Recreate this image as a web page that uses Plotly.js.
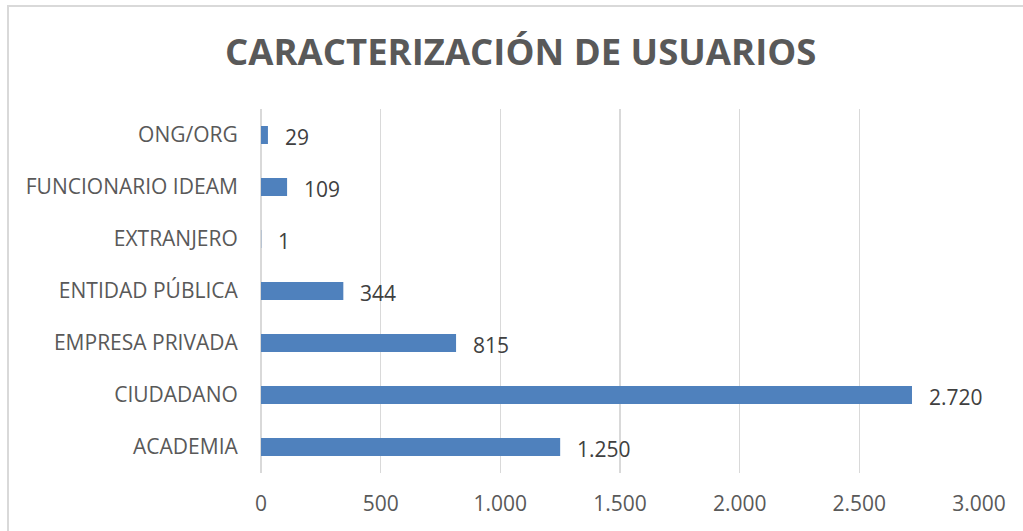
<!DOCTYPE html>
<html>
<head>
<meta charset="utf-8">
<script src="https://cdn.plot.ly/plotly-3.0.1.min.js"></script>
<style>
  html, body { margin: 0; padding: 0; background: #fff; overflow: hidden; }
  #frame { position: absolute; left: 7px; top: 5px; width: 1030px; height: 540px; border: 2px solid #d9d9d9; box-sizing: border-box; }
  #chart { position: absolute; left: 0; top: 0; width: 1023px; height: 531px; }
</style>
</head>
<body>
<div id="frame"></div>
<div id="chart"></div>
<script>
const categories = ["ACADEMIA", "CIUDADANO", "EMPRESA PRIVADA", "ENTIDAD PÚBLICA", "EXTRANJERO", "FUNCIONARIO IDEAM", "ONG/ORG"];
const values = [1250, 2720, 815, 344, 1, 109, 29];
const tickVals = [0, 500, 1000, 1500, 2000, 2500, 3000];
const tickText = ["0", "500", "1.000", "1.500", "2.000", "2.500", "3.000"];
const valueLabels = ["1.250", "2.720", "815", "344", "1", "109", "29"];
const chartTitle = "CARACTERIZACIÓN DE USUARIOS";

const font = "Open Sans, sans-serif";

const trace = {
  type: "bar",
  orientation: "h",
  x: values,
  y: categories,
  marker: { color: "#4f81bd", line: { width: 0 } },
  hoverinfo: "none"
};

const annotations = values.map((v, i) => ({
  x: v, y: categories[i], xref: "x", yref: "y",
  text: valueLabels[i], showarrow: false,
  xanchor: "left", yanchor: "middle", xshift: 15, yshift: -2,
  font: { family: font, size: 21, color: "#404040" }
}));

const layout = {
  width: 1023, height: 531,
  margin: { l: 261, r: 44, t: 109, b: 58 },
  paper_bgcolor: "rgba(0,0,0,0)",
  plot_bgcolor: "rgba(0,0,0,0)",
  showlegend: false,
  bargap: 0.654,
  title: {
    text: "<b>" + chartTitle + "</b>",
    font: { family: font, size: 36.5, color: "#595959" },
    x: 0.509, xanchor: "center",
    y: 1 - 52 / 531, yref: "container", yanchor: "middle"
  },
  xaxis: {
    range: [0, 3000],
    tickvals: tickVals, ticktext: tickText,
    showgrid: true, gridcolor: "#d9d9d9", gridwidth: 1.3,
    zeroline: true, zerolinecolor: "#d9d9d9", zerolinewidth: 1.3,
    showline: false,
    ticks: "outside", ticklen: 12, tickcolor: "rgba(0,0,0,0)",
    tickfont: { family: font, size: 21, color: "#595959" },
    fixedrange: true
  },
  yaxis: {
    type: "category",
    categoryorder: "array", categoryarray: categories,
    showgrid: false, zeroline: false, showline: false,
    ticks: "outside", ticklen: 18, tickcolor: "rgba(0,0,0,0)",
    tickfont: { family: font, size: 21, color: "#595959" },
    fixedrange: true
  },
  annotations: annotations
};

Plotly.newPlot("chart", [trace], layout, { displayModeBar: false, staticPlot: true });
</script>
</body>
</html>
